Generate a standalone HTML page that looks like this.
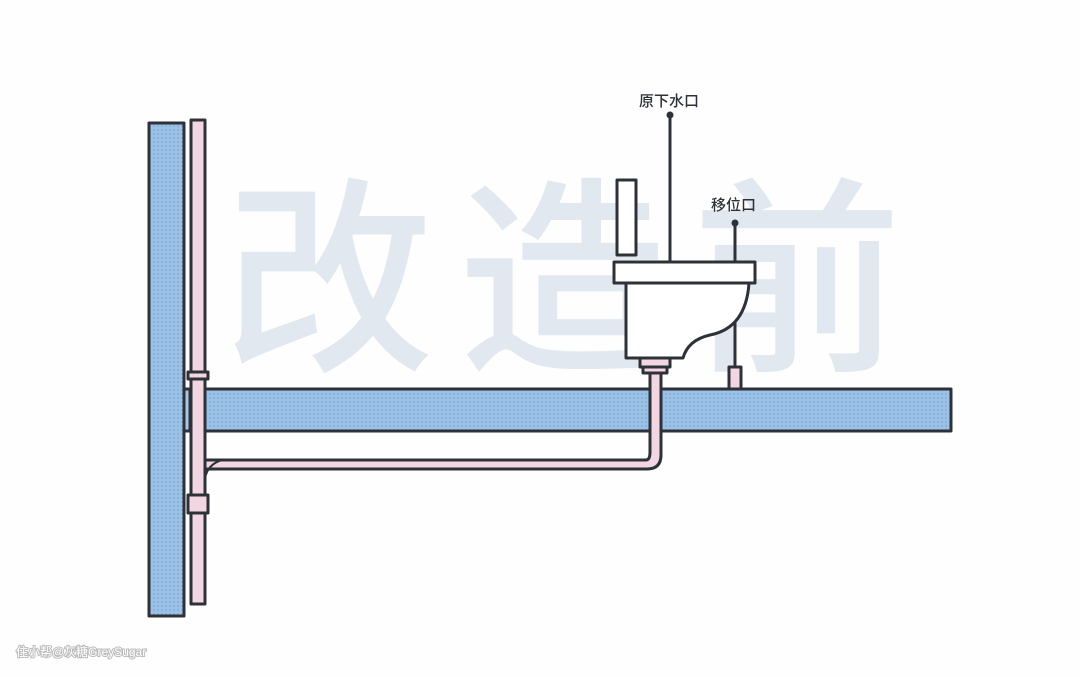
<!DOCTYPE html>
<html><head><meta charset="utf-8"><style>
html,body{margin:0;padding:0;background:#fefefe;}
svg{display:block;}
</style></head><body>
<svg width="1080" height="677" viewBox="0 0 1080 677" xmlns="http://www.w3.org/2000/svg">
<defs>
<pattern id="dots" width="4" height="4" patternUnits="userSpaceOnUse">
<rect width="4" height="4" fill="#9cc1e6"/>
<circle cx="2" cy="2" r="0.9" fill="#7ea9d6"/>
</pattern>
</defs>
<rect width="1080" height="677" fill="#fefefe"/>
<text x="575" y="355" text-anchor="middle" font-family="'Noto Sans CJK SC',sans-serif" font-weight="500" font-size="210" fill="#e2e8ef" letter-spacing="24">改造前</text>

<g stroke="#2e3138" stroke-width="3">
<line x1="670" y1="116" x2="670" y2="262"/>
<line x1="735" y1="224" x2="735" y2="367"/>
</g>
<g stroke="#2e3138" stroke-width="3" stroke-linejoin="round">
<rect x="149" y="123" width="35" height="493" fill="url(#dots)"/>
<rect x="184" y="389" width="767" height="42" fill="url(#dots)"/>
<rect x="184" y="389" width="6" height="42" fill="#a9c9ea"/>
<rect x="191" y="120" width="14" height="484" fill="#f2d6e2"/>
<rect x="188" y="372" width="20" height="7" fill="#f2d6e2"/>
<rect x="188" y="495" width="20" height="18" fill="#f2d6e2"/>
<path d="M205 460 H646 Q650 460 650 452 V373 H661 V455 Q661 469 647 469 H205 Z" fill="#f2d6e2"/>
<path d="M205 478 Q208 464 222 460" fill="none" stroke-width="2"/>
<rect x="617" y="180" width="19" height="75" fill="#fff"/>
<path d="M626 283 V358 H683 Q688 340 710 335 Q746 328 749 283 Z" fill="#fff"/>
<rect x="614" y="262" width="141" height="21" fill="#fff"/>
<rect x="640" y="358" width="30" height="9" fill="#f2d6e2"/>
<rect x="643" y="367" width="24" height="6" fill="#f2d6e2"/>
<rect x="729" y="367" width="12" height="22" fill="#f2d6e2"/>
</g>
<circle cx="670" cy="115" r="3.5" fill="#2e3138"/>
<circle cx="735" cy="223" r="3.5" fill="#2e3138"/>
<text x="639" y="106" font-family="'Noto Sans CJK SC',sans-serif" font-size="15" font-weight="500" fill="#2e3138">原下水口</text>
<text x="711" y="210" font-family="'Noto Sans CJK SC',sans-serif" font-size="15" font-weight="500" fill="#2e3138">移位口</text>
<text x="16" y="656" font-family="'Liberation Sans','Noto Sans CJK SC',sans-serif" font-size="12" fill="#fff" style="paint-order:stroke" stroke="#bbb" stroke-width="2">住小帮@灰糖GreySugar</text>
</svg>
</body></html>
